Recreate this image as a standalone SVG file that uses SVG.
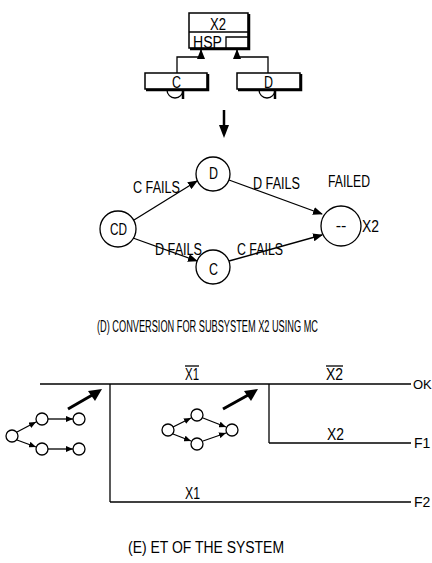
<svg xmlns="http://www.w3.org/2000/svg" width="432" height="563" viewBox="0 0 432 563">
<defs>
<style>
text{font-family:"Liberation Sans",Arial,sans-serif;font-size:16px;fill:#000}
.ln{stroke:#000;stroke-width:1.3;fill:none}
.bx{stroke:#000;stroke-width:1.5;fill:#fff}
.sh{stroke:#000;stroke-width:2.5;fill:none}
.c{stroke:#000;stroke-width:1.3;fill:#fff}
.m{text-anchor:middle}
</style>
<marker id="ah" markerWidth="10" markerHeight="8" refX="9" refY="4" orient="auto" markerUnits="userSpaceOnUse">
<path d="M0,0 L10,4 L0,8 Z" fill="#000"/>
</marker>
<marker id="sa" markerWidth="7" markerHeight="6" refX="7" refY="3" orient="auto" markerUnits="userSpaceOnUse">
<path d="M0,0 L7,3 L0,6 Z" fill="#000"/>
</marker>
</defs>

<g id="gate-x2">
<rect class="bx" x="189" y="13" width="59" height="35"/>
<path class="sh" d="M249,14 V49 H190"/>
<line class="ln" x1="189" y1="32" x2="248" y2="32"/>
<path class="ln" d="M226,48 V37 H248"/>
<text x="210" y="30" textLength="16" lengthAdjust="spacingAndGlyphs">X2</text>
<text x="193" y="48" textLength="29" lengthAdjust="spacingAndGlyphs">HSP</text>
</g>

<g id="comp-c">
<rect class="bx" x="145" y="73" width="62" height="16"/>
<path class="sh" d="M208,74 V90 H146"/>
<path class="ln" d="M167,90 A8,8 0 0 0 183,90" stroke-width="1.8"/>
<line class="sh" x1="183" y1="90" x2="183" y2="99"/>
<text x="172" y="88" textLength="9" lengthAdjust="spacingAndGlyphs">C</text>
</g>

<g id="comp-d">
<rect class="bx" x="237" y="73" width="63" height="16"/>
<path class="sh" d="M301,74 V90 H238"/>
<path class="ln" d="M259,90 A8,8 0 0 0 275,90" stroke-width="1.8"/>
<line class="sh" x1="275" y1="90" x2="275" y2="99"/>
<text x="264" y="88" textLength="9" lengthAdjust="spacingAndGlyphs">D</text>
</g>

<g id="down-arrow">
<line x1="224" y1="110" x2="224" y2="127" stroke="#000" stroke-width="2.5"/>
<polygon points="219,125 229,125 224,138" fill="#000"/>
</g>

<g id="state-cd">
<circle class="c" cx="118" cy="229" r="18"/>
<text x="110" y="235" textLength="17" lengthAdjust="spacingAndGlyphs">CD</text>
</g>
<g id="state-d">
<circle class="c" cx="213" cy="174" r="17"/>
<text x="209" y="179" textLength="9" lengthAdjust="spacingAndGlyphs">D</text>
</g>
<g id="state-c">
<circle class="c" cx="213" cy="267" r="17"/>
<text x="209" y="275" textLength="9" lengthAdjust="spacingAndGlyphs">C</text>
</g>
<g id="state-failed">
<circle class="c" cx="341" cy="226" r="20"/>
<text class="m" x="341" y="231">--</text>
<text x="328" y="187" textLength="42" lengthAdjust="spacingAndGlyphs">FAILED</text>
<text x="362" y="232" textLength="17" lengthAdjust="spacingAndGlyphs">X2</text>
</g>

<g id="connectors">
<path class="ln" d="M177,73 V57 H201 V50" marker-end="url(#ah)"/>
<path class="ln" d="M268,73 V57 H237 V50" marker-end="url(#ah)"/>
<line class="ln" x1="134" y1="220" x2="197" y2="181" marker-end="url(#ah)"/>
<line class="ln" x1="229" y1="180" x2="322" y2="214" marker-end="url(#ah)"/>
<line class="ln" x1="133" y1="238" x2="197" y2="261" marker-end="url(#ah)"/>
<line class="ln" x1="229" y1="261" x2="322" y2="235" marker-end="url(#ah)"/>
</g>

<g id="labels-d">
<text x="133" y="193" textLength="47" lengthAdjust="spacingAndGlyphs">C FAILS</text>
<text x="253" y="189" textLength="47" lengthAdjust="spacingAndGlyphs">D FAILS</text>
<text x="155" y="255" textLength="47" lengthAdjust="spacingAndGlyphs">D FAILS</text>
<text x="237" y="255" textLength="46" lengthAdjust="spacingAndGlyphs">C FAILS</text>
<text transform="translate(97,332) scale(0.68,1)" x="0" y="0" textLength="325" lengthAdjust="spacingAndGlyphs">(D) CONVERSION FOR SUBSYSTEM X2 USING MC</text>
</g>

<g id="event-tree">
<line class="ln" x1="40" y1="384" x2="411" y2="384"/>
<line class="ln" x1="110" y1="384" x2="110" y2="502"/>
<line class="ln" x1="110" y1="502" x2="411" y2="502"/>
<line class="ln" x1="269" y1="384" x2="269" y2="443"/>
<line class="ln" x1="269" y1="443" x2="411" y2="443"/>
<text x="185" y="380" textLength="14" lengthAdjust="spacingAndGlyphs">X1</text>
<line class="ln" x1="185" y1="366" x2="199" y2="366" stroke-width="1"/>
<text x="326" y="380" textLength="17" lengthAdjust="spacingAndGlyphs">X2</text>
<line class="ln" x1="326" y1="366" x2="343" y2="366" stroke-width="1"/>
<text x="327" y="440" textLength="17" lengthAdjust="spacingAndGlyphs">X2</text>
<text x="185" y="499" textLength="15" lengthAdjust="spacingAndGlyphs">X1</text>
<text x="413" y="389" style="font-size:13px">OK</text>
<text x="414" y="448" style="font-size:14px">F1</text>
<text x="414" y="507" style="font-size:14px">F2</text>
</g>

<g id="big-arrows">
<line x1="68" y1="409" x2="94" y2="394" stroke="#000" stroke-width="3"/>
<polygon points="102,389 88,391 95,401" fill="#000"/>
<line x1="223" y1="409" x2="250" y2="394" stroke="#000" stroke-width="3"/>
<polygon points="258,389 244,391 251,401" fill="#000"/>
</g>

<g id="mini-graph-1">
<line class="ln" x1="17" y1="432" x2="36" y2="422" marker-end="url(#sa)" stroke-width="1"/>
<line class="ln" x1="48" y1="419" x2="73" y2="419" marker-end="url(#sa)" stroke-width="1"/>
<line class="ln" x1="17" y1="440" x2="36" y2="447" marker-end="url(#sa)" stroke-width="1"/>
<line class="ln" x1="48" y1="449" x2="73" y2="449" marker-end="url(#sa)" stroke-width="1"/>
<circle class="c" cx="12" cy="436" r="6"/>
<circle class="c" cx="42" cy="419" r="6"/>
<circle class="c" cx="79" cy="419" r="6"/>
<circle class="c" cx="42" cy="449" r="6"/>
<circle class="c" cx="79" cy="449" r="6"/>
</g>

<g id="mini-graph-2">
<line class="ln" x1="173" y1="427" x2="191" y2="418" marker-end="url(#sa)" stroke-width="1"/>
<line class="ln" x1="203" y1="418" x2="226" y2="427" marker-end="url(#sa)" stroke-width="1"/>
<line class="ln" x1="173" y1="434" x2="191" y2="441" marker-end="url(#sa)" stroke-width="1"/>
<line class="ln" x1="203" y1="441" x2="226" y2="433" marker-end="url(#sa)" stroke-width="1"/>
<circle class="c" cx="168" cy="430" r="6"/>
<circle class="c" cx="197" cy="415" r="6"/>
<circle class="c" cx="232" cy="430" r="6"/>
<circle class="c" cx="197" cy="444" r="6"/>
</g>

<g id="caption-e">
<text x="128" y="553" textLength="156" lengthAdjust="spacingAndGlyphs">(E) ET OF THE SYSTEM</text>
</g>
</svg>
